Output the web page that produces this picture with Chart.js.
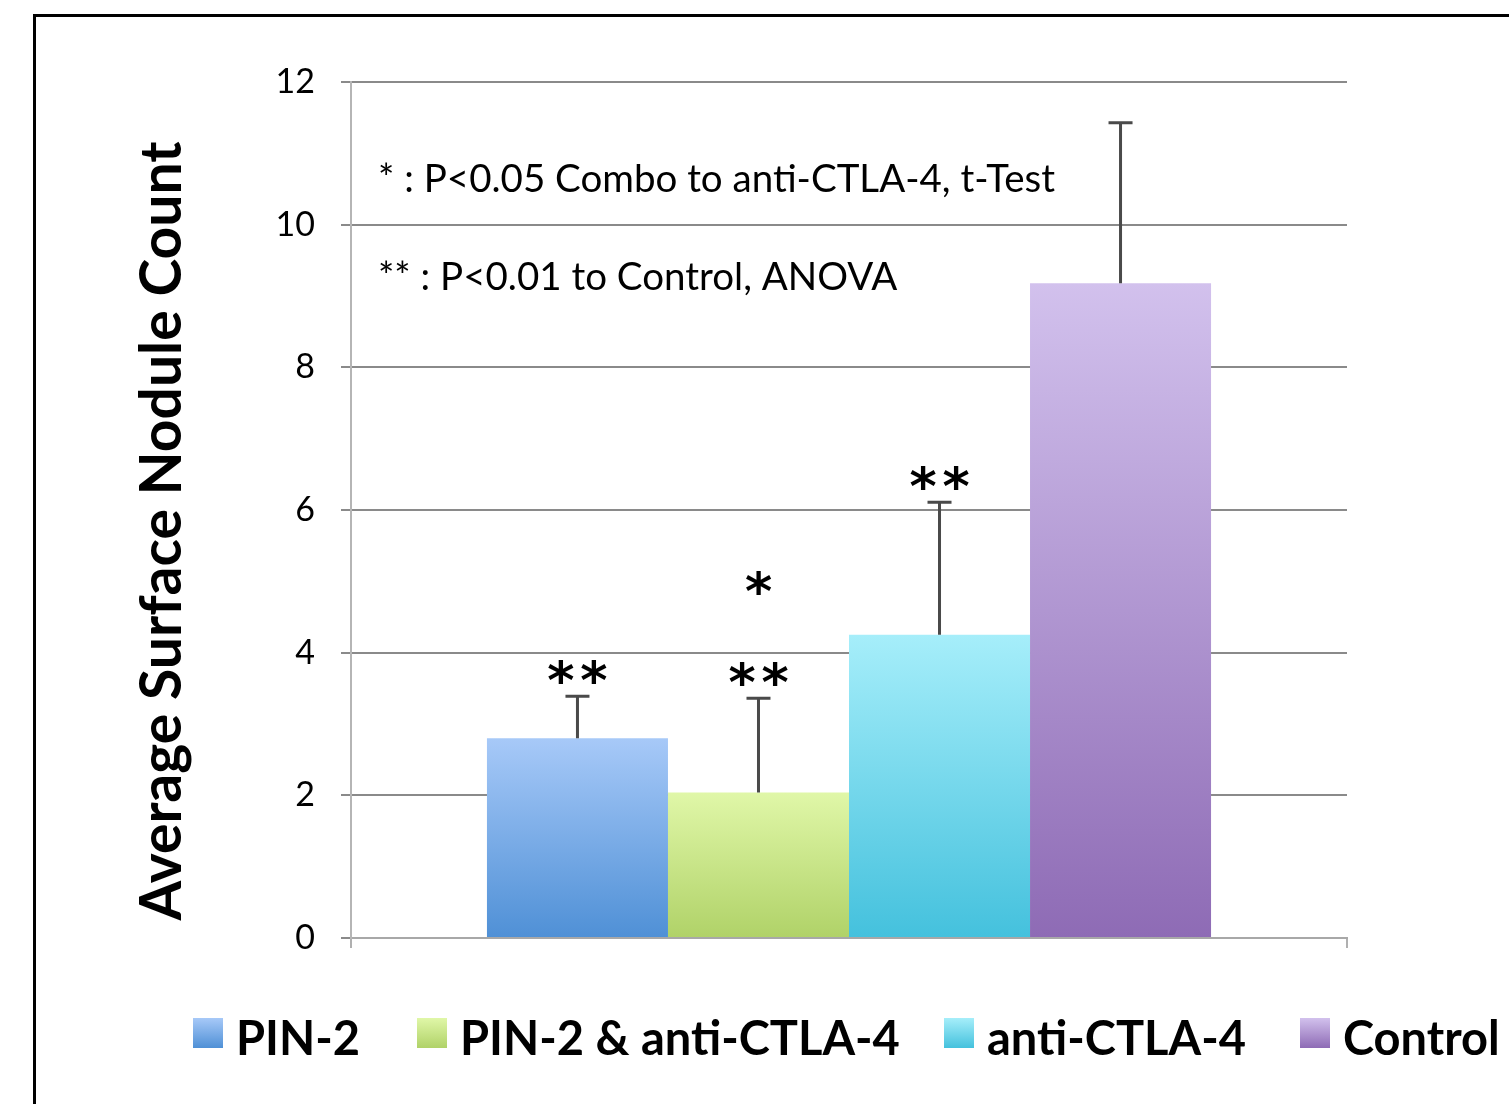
<!DOCTYPE html>
<html>
<head>
<meta charset="utf-8">
<script src="https://cdn.jsdelivr.net/npm/chart.js@4.4.0/dist/chart.umd.min.js"></script>
<style>
  html, body { margin: 0; padding: 0; background: #fff; overflow: hidden; }
  #wrap { position: absolute; left: 0; top: 0; width: 1509px; height: 1104px; }
</style>
</head>
<body>
<div id="wrap"><canvas id="chart"></canvas></div>
<script>
// data
const categories = [""];
const seriesNames = ["PIN-2", "PIN-2 & anti-CTLA-4", "anti-CTLA-4", "Control"];
const means = [2.80, 2.04, 4.25, 9.18];
const errors = [0.59, 1.32, 1.86, 2.25];
const starLabels = ["**", "**", "**", ""];
const extraStar = ["", "*", "", ""];
const yTicks = [0, 2, 4, 6, 8, 10, 12];
const notes = ["* : P<0.05 Combo to anti-CTLA-4, t-Test", "** : P<0.01 to Control, ANOVA"];
const yTitle = "Average Surface Nodule Count";

// gradient colours, top -> bottom
const topColors = ["#a7c9f8", "#e0f7a8", "#a6eefa", "#d2c1ed"];
const bottomColors = ["#4f90d6", "#b0d268", "#44c1dd", "#8e6bb5"];

// legend box left edges (Excel spaces them unevenly)
const legendX = [193, 417, 944, 1300];

function barGradient(ctx, i) {
  const chart = ctx.chart;
  const area = chart.chartArea;
  if (!area) return bottomColors[i];
  const y = chart.scales.y;
  const top = y.getPixelForValue(means[i]);
  const bottom = y.getPixelForValue(0);
  const g = chart.ctx.createLinearGradient(0, top, 0, bottom);
  g.addColorStop(0, topColors[i]);
  g.addColorStop(1, bottomColors[i]);
  return g;
}

const datasets = seriesNames.map((name, i) => ({
  label: name,
  data: [means[i]],
  backgroundColor: ctx => barGradient(ctx, i),
  borderWidth: 0
}));

// draw a row of asterisks, spaced like the original
function drawStars(c, text, x, baseline) {
  const n = text.length;
  const step = 33;
  for (let k = 0; k < n; k++) {
    c.fillText("*", x + (k - (n - 1) / 2) * step, baseline);
  }
}

// error bars, stars, notes, title, legend, frame
const extras = {
  id: "extras",
  beforeDraw(chart) {
    const c = chart.ctx;
    c.save();
    c.fillStyle = "#fff";
    c.fillRect(0, 0, chart.width, chart.height);
    c.strokeStyle = "#000";
    c.lineWidth = 3;
    c.strokeRect(34.5, 15.5, 3000, 3000);
    c.restore();
  },
  afterDatasetsDraw(chart) {
    const c = chart.ctx;
    const y = chart.scales.y;
    c.save();
    seriesNames.forEach((name, i) => {
      const bar = chart.getDatasetMeta(i).data[0];
      const x = bar.x;
      const yTop = y.getPixelForValue(means[i] + errors[i]);
      const yBar = y.getPixelForValue(means[i]);
      c.strokeStyle = "#4a4a4a";
      c.lineWidth = 3;
      c.beginPath();
      c.moveTo(x, yBar);
      c.lineTo(x, yTop);
      c.moveTo(x - 12, yTop);
      c.lineTo(x + 12, yTop);
      c.stroke();

      c.fillStyle = "#000";
      c.textAlign = "center";
      c.textBaseline = "alphabetic";
      c.font = "bold 52px 'DejaVu Sans'";
      if (starLabels[i]) drawStars(c, starLabels[i], x, yTop + 2);
      if (extraStar[i]) drawStars(c, extraStar[i], x, yTop - 89);
    });

    // notes
    c.textAlign = "left";
    c.fillStyle = "#000";
    c.font = "38.5px Lato";
    c.fillText(notes[0], 378, 192);
    c.fillText(notes[1], 378, 290);

    // y title
    c.save();
    c.translate(181, 531);
    c.rotate(-Math.PI / 2);
    c.textAlign = "center";
    c.font = "bold 57px Lato";
    c.fillText(yTitle, 0, 0);
    c.restore();

    // legend
    c.font = "bold 47px Lato";
    c.textAlign = "left";
    seriesNames.forEach((name, i) => {
      const lx = legendX[i];
      const g = c.createLinearGradient(0, 1018, 0, 1048);
      g.addColorStop(0, topColors[i]);
      g.addColorStop(1, bottomColors[i]);
      c.fillStyle = g;
      c.fillRect(lx, 1018, 30, 30);
      c.fillStyle = "#000";
      c.fillText(name, lx + 43, 1055);
    });
    c.restore();
  }
};

new Chart(document.getElementById("chart"), {
  type: "bar",
  data: { labels: categories, datasets },
  options: {
    responsive: true,
    maintainAspectRatio: false,
    animation: false,
    categoryPercentage: 0.727,
    barPercentage: 1,
    layout: { padding: { left: 0, top: 82, right: 162, bottom: 156 } },
    plugins: { legend: { display: false }, tooltip: { enabled: false } },
    scales: {
      x: {
        ticks: { display: false },
        grid: { drawOnChartArea: false, tickLength: 10, color: "#b0b0b0", lineWidth: 2 },
        border: { color: "#a8a8a8", width: 2 },
        afterFit(scale) { scale.height = 10; }
      },
      y: {
        min: 0,
        max: 12,
        afterBuildTicks(scale) { scale.ticks = yTicks.map(v => ({ value: v })); },
        ticks: { color: "#000", padding: 26, font: { family: "Lato", size: 34 } },
        grid: { color: "#8a8a8a", lineWidth: 2, tickLength: 10 },
        border: { color: "#b5b5b5", width: 2 },
        afterFit(scale) { scale.width = 351; }
      }
    }
  },
  plugins: [extras]
});
</script>
</body>
</html>
